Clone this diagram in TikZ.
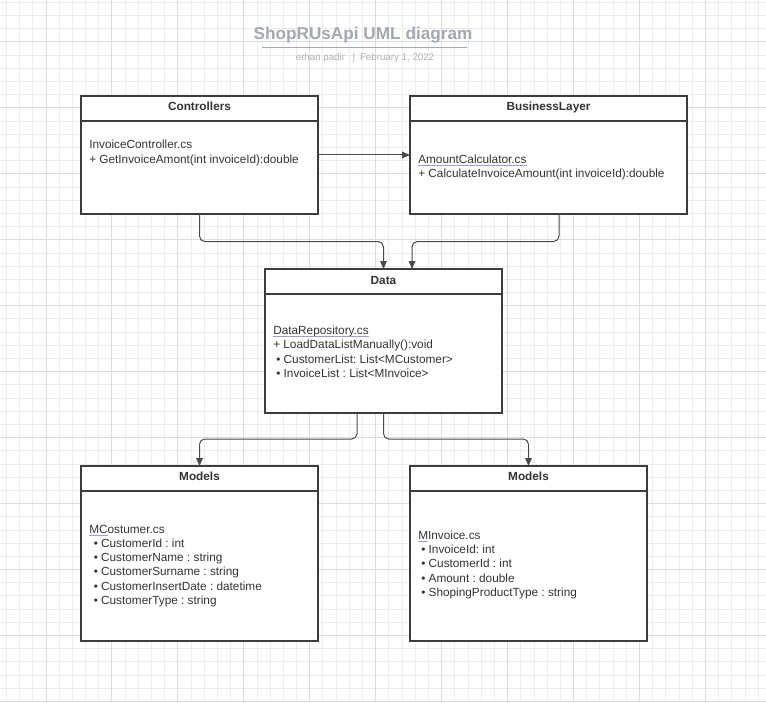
\documentclass[tikz,border=0pt]{standalone}
\usepackage{fontspec}
\setmainfont{Liberation Sans}
\frenchspacing
\usetikzlibrary{arrows.meta,calc}
\definecolor{gridminor}{HTML}{EDEDED}
\definecolor{gridmajor}{HTML}{DCDCDC}
\definecolor{boxc}{HTML}{3C3C3C}
\definecolor{txtc}{HTML}{333333}
\definecolor{titlec}{HTML}{A3A8B2}
\definecolor{subc}{HTML}{ACB0B8}
\definecolor{connc}{HTML}{4A4A4A}
\definecolor{spellc}{HTML}{9C9CE6}
\tikzset{
  umlbox/.style={draw=boxc, line width=1.1pt, fill=white, anchor=north west, inner sep=0pt, outer sep=0pt},
  boxline/.style={draw=boxc, line width=1.1pt},
  body/.style={anchor=base west, inner sep=0pt, text=txtc, font=\fontsize{8.85pt}{10pt}\selectfont},
  head/.style={anchor=base, inner sep=0pt, text=txtc, font=\fontsize{8.85pt}{10pt}\selectfont\bfseries},
  conn/.style={draw=connc, line width=0.75pt, rounded corners=4pt, -{Triangle[length=6pt,width=5pt]}},
  spell/.style={draw=spellc, line width=0.6pt},
  gminor/.style={draw=gridminor, line width=0.75pt},
  gmajor/.style={draw=gridmajor, line width=0.75pt},
}
\begin{document}
\begin{tikzpicture}[x=0.75pt,y=-0.75pt]
\useasboundingbox (0,0) rectangle (766,702);
\fill[white] (0,0) rectangle (766,702);
% grid
\begin{scope}
\clip (0,0) rectangle (766,702);
\foreach \i in {-4,...,55} {
  \draw[gminor] ({46+13.19*\i},0) -- ({46+13.19*\i},702);
  \draw[gminor] (0,{42+13.19*\i}) -- (766,{42+13.19*\i});
}
\foreach \i in {-5,0,...,55} {
  \draw[gmajor] ({46+13.19*\i},0) -- ({46+13.19*\i},702);
  \draw[gmajor] (0,{42+13.19*\i}) -- (766,{42+13.19*\i});
}
\end{scope}
% title
\node[anchor=base, inner sep=0pt, text=titlec, font=\fontsize{12.9pt}{14pt}\selectfont\bfseries] (title) at (363,40) {ShopRUsApi UML diagram};
\coordinate (tl) at (262,47.3);
\coordinate (tr) at (467,47.3);
\draw[draw=titlec, line width=0.9pt] (tl) -- (tr);
\node[anchor=base, inner sep=0pt, text=subc, font=\fontsize{7.3pt}{8pt}\selectfont] (sub) at (365,60.5) {erhan padir \enspace|\enspace February 1, 2022};
% boxes
\node[umlbox, minimum width=237*0.75pt, minimum height=118*0.75pt] (ctrl) at (81,96) {};
\node[umlbox, minimum width=277*0.75pt, minimum height=118*0.75pt] (bl) at (410,96) {};
\node[umlbox, minimum width=237*0.75pt, minimum height=144*0.75pt] (data) at (265,269) {};
\node[umlbox, minimum width=237*0.75pt, minimum height=175*0.75pt] (ml) at (81,466) {};
\node[umlbox, minimum width=237*0.75pt, minimum height=175*0.75pt] (mr) at (410,466) {};
% header separators
\foreach \b in {ctrl,bl,data,ml,mr} {
  \draw[boxline] ($(\b.north west)+(0,25)$) -- ($(\b.north east)+(0,25)$);
}
% headers
\node[head] (ctrlH) at (199.5,110.7) {Controllers};
\node[head] (blH) at (548.5,110.7) {BusinessLayer};
\node[head] (dataH) at (383.5,284.3) {Data};
\node[head] (mlH) at (199.5,480) {Models};
\node[head] (mrH) at (528.5,480) {Models};
% Controllers body
\node[body] (c1) at (89,149) {InvoiceController.cs};
\node[body] (c2) at (89,163.5) {+ GetInvoiceAmont(int invoiceId):double};
% BusinessLayer body
\node[body] (b1) at (418,163.3) {AmountCalculator.cs};
\node[body] (b2) at (418,177.5) {+ CalculateInvoiceAmount(int invoiceId):double};
\draw[spell] ($(b1.base west)+(0,2.2)$) -- ($(b1.base east)+(0,2.2)$);
% Data body
\node[body] (d1) at (273,334.3) {DataRepository.cs};
\node[body] (d2) at (273,348.8) {+ LoadDataListManually():void};
\node[body] (d3) at (276,363.2) {• CustomerList: List<MCustomer>};
\node[body] (d4) at (276,377.5) {• InvoiceList : List<MInvoice>};
\draw[spell] ($(d1.base west)+(0,2.2)$) -- ($(d1.base east)+(0,2.2)$);
% Models left
\node[body] (l1) at (89,533.3) {MCostumer.cs};
\node[body] (l2) at (93.5,547.5) {• CustomerId : int};
\node[body] (l3) at (93.5,561.7) {• CustomerName : string};
\node[body] (l4) at (93.5,575.9) {• CustomerSurname : string};
\node[body] (l5) at (93.5,590.1) {• CustomerInsertDate : datetime};
\node[body] (l6) at (93.5,604.3) {• CustomerType : string};
\draw[spell] ($(l1.base west)+(0,2.2)$) -- ($(l1.base west)+(19,2.2)$);
% Models right
\node[body] (r1) at (418,539.3) {MInvoice.cs};
\node[body] (r2) at (421,553.7) {• InvoiceId: int};
\node[body] (r3) at (421,567.9) {• CustomerId : int};
\node[body] (r4) at (421,582.1) {• Amount : double};
\node[body] (r5) at (421,596.3) {• ShopingProductType : string};
\draw[spell] ($(r1.base west)+(0,2.2)$) -- ($(r1.base west)+(10,2.2)$);
% connectors
\draw[conn] (ctrl.east) -- (bl.west);
\draw[conn] (ctrl.south) -- ++(0,27.5) -| (data.north);
\draw[conn] ($(bl.south)+(10.5,0)$) -- ++(0,27.5) -| ($(data.north)+(28.5,0)$);
\draw[conn] ($(data.south)+(-26.5,0)$) -- ++(0,26) -| (ml.north);
\draw[conn] (data.south) -- ++(0,26) -| (mr.north);
\end{tikzpicture}
\end{document}
